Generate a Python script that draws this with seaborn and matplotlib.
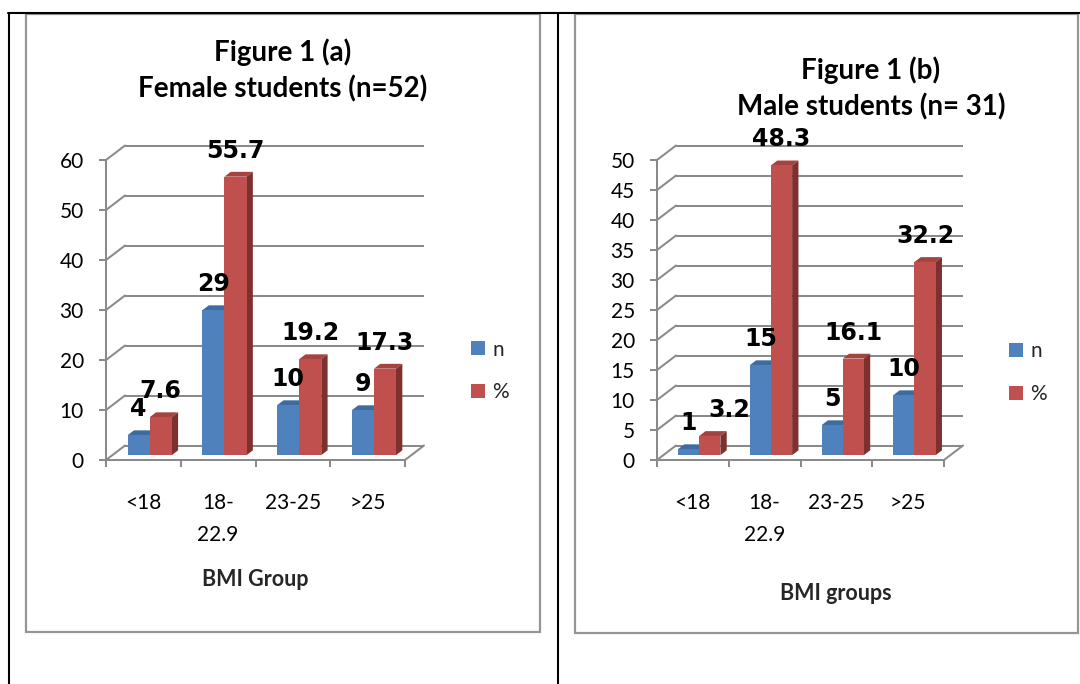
import matplotlib
matplotlib.use("Agg")
import matplotlib.pyplot as plt
import matplotlib.colors as mcolors
import numpy as np
import pandas as pd
import seaborn as sns
from matplotlib.patches import Polygon, Rectangle, ConnectionPatch
from matplotlib.lines import Line2D

# ---- data -------------------------------------------------------------
bmi_groups = ["<18", "18-\n22.9", "23-25", ">25"]
series_names = ["n", "%"]

female_n = [4, 29, 10, 9]
female_pct = [7.6, 55.7, 19.2, 17.3]

male_n = [1, 15, 5, 10]
male_pct = [3.2, 48.3, 16.1, 32.2]

female_title = "Figure 1 (a)\nFemale students (n=52)"
male_title = "Figure 1 (b)\nMale students (n= 31)"
female_xlabel = "BMI Group"
male_xlabel = "BMI groups"
female_yticks = list(range(0, 61, 10))
male_yticks = list(range(0, 51, 5))

# ---- styling ----------------------------------------------------------
W, H, DPI = 1080, 684, 100
BLUE, RED = "#4F81BD", "#C0504D"
FACES = {BLUE.lower(): ("#3E6BA0", "#2F5584"), RED.lower(): ("#A6423F", "#7E302E")}
GRID = "#8A8A8A"
FRAME = "#959595"
DEPTH = (19.0, 14.5)          # pixel offset from front plane to back wall
LW = 1.45

sns.set_theme(style="white")
plt.rcParams["font.family"] = ["Lato", "DejaVu Sans"]


def fx(px):
    return px / W


def fy(py):
    return 1 - py / H


def rect(x0, x1, yb, yt):
    return [fx(x0), fy(yb), (x1 - x0) / W, (yb - yt) / H]


def draw_panel(fig, front, ymax, yticks, n_vals, pct_vals, title, title_xy,
               xlabel, xlabel_xy, legend_xy, nudges=None):
    nudges = nudges or {}
    x0, x1, yb, yt = front
    dx, dy = DEPTH

    ax_back = fig.add_axes(rect(x0 + dx, x1 + dx, yb - dy, yt - dy))
    ax_bar = fig.add_axes(rect(x0 + dx / 3, x1 + dx / 3, yb - dy / 3, yt - dy / 3))
    ax_front = fig.add_axes(rect(x0, x1, yb, yt))

    # back wall gridlines
    ax_back.hlines(yticks, -0.5, 3.5, colors=GRID, lw=LW, clip_on=False)
    ax_back.set_xlim(-0.5, 3.5)
    ax_back.set_ylim(0, ymax)
    ax_back.axis("off")

    # bars
    df = pd.DataFrame({
        "group": bmi_groups * 2,
        "value": list(n_vals) + list(pct_vals),
        "series": [series_names[0]] * 4 + [series_names[1]] * 4,
    })
    sns.barplot(data=df, x="group", y="value", hue="series", order=bmi_groups,
                hue_order=series_names, palette=[BLUE, RED], saturation=1,
                width=0.59, gap=0, linewidth=0, edgecolor="none",
                ax=ax_bar, legend=True)
    ax_bar.set_xlim(-0.5, 3.5)
    ax_bar.set_ylim(0, ymax)
    ax_bar.axis("off")

    ppx = (x1 - x0) / 4.0
    ppy = (yb - yt) / ymax
    ddx = (dx / 3) / ppx
    ddy = (dy / 3) / ppy

    for cont, vals, sname in zip(ax_bar.containers, [n_vals, pct_vals], series_names):
        for patch, v, grp in zip(cont.patches, vals, bmi_groups):
            x, w, h = patch.get_x(), patch.get_width(), patch.get_height()
            key = mcolors.to_hex(patch.get_facecolor()).lower()
            top_c, side_c = FACES.get(key, ("#666666", "#444444"))
            ax_bar.add_patch(Polygon([(x, h), (x + w, h), (x + w + ddx, h + ddy),
                                      (x + ddx, h + ddy)], closed=True,
                                     fc=top_c, ec="none", zorder=0.5, clip_on=False))
            ax_bar.add_patch(Polygon([(x + w, 0), (x + w + ddx, ddy),
                                      (x + w + ddx, h + ddy), (x + w, h)], closed=True,
                                     fc=side_c, ec="none", zorder=0.5, clip_on=False))
            ax_bar.annotate(f"{v:g}", xy=(x + w / 2, h),
                            xytext=(nudges.get((grp, sname), 0), 18.7),
                            textcoords="offset points", ha="center", va="center",
                            fontsize=17, fontweight="bold", family="DejaVu Sans",
                            color="black", annotation_clip=False)

    sns.move_legend(ax_bar, "center left",
                    bbox_to_anchor=(fx(legend_xy[0]), fy(legend_xy[1])),
                    bbox_transform=fig.transFigure, frameon=False, title="",
                    handlelength=0.68, handleheight=0.68, handletextpad=0.35,
                    labelspacing=1.1, borderpad=0, borderaxespad=0, fontsize=15)

    # front axis, floor edge and tick labels
    ax_front.patch.set_visible(False)
    ax_front.set_xlim(-0.5, 3.5)
    ax_front.set_ylim(0, ymax)
    for side in ("top", "right"):
        ax_front.spines[side].set_visible(False)
    for side in ("left", "bottom"):
        ax_front.spines[side].set_color(GRID)
        ax_front.spines[side].set_linewidth(LW)
    ax_front.set_yticks(yticks)
    ax_front.set_yticklabels([str(t) for t in yticks])
    ax_front.set_xticks(range(4))
    ax_front.set_xticklabels(bmi_groups, linespacing=1.75)
    ax_front.set_xticks([-0.5, 0.5, 1.5, 2.5, 3.5], minor=True)
    ax_front.tick_params(axis="y", which="major", length=5, width=LW, color=GRID,
                         direction="out", pad=11, labelsize=15, labelcolor="black",
                         left=True)
    ax_front.tick_params(axis="x", which="major", length=0, pad=24,
                         labelsize=15, labelcolor="black")
    ax_front.tick_params(axis="x", which="minor", length=5, width=LW, color=GRID,
                         direction="out", bottom=True)
    ax_front.set_xlabel(xlabel, fontsize=15.5, fontweight="bold", va="center")
    ax_front.xaxis.set_label_coords(fx(xlabel_xy[0]), fy(xlabel_xy[1]),
                                    transform=fig.transFigure)
    ax_front.set_ylabel("")

    # side wall diagonals joining front axis to the back wall
    for v in yticks:
        fig.add_artist(ConnectionPatch(xyA=(-0.5, v), coordsA=ax_front.transData,
                                       xyB=(-0.5, v), coordsB=ax_back.transData,
                                       color=GRID, lw=LW))
    fig.add_artist(ConnectionPatch(xyA=(3.5, 0), coordsA=ax_front.transData,
                                   xyB=(3.5, 0), coordsB=ax_back.transData,
                                   color=GRID, lw=LW))

    fig.text(fx(title_xy[0]), fy(title_xy[1]), title, ha="center", va="center",
             fontsize=20, fontweight="bold", linespacing=1.4, color="black")


fig = plt.figure(figsize=(W / DPI, H / DPI), dpi=DPI)
fig.patch.set_facecolor("white")

# chart frames
for (l, r, t, b) in [(26, 540, 14, 632), (575, 1078, 14, 633)]:
    fig.add_artist(Rectangle((fx(l), fy(b)), (r - l) / W, (b - t) / H,
                             transform=fig.transFigure, fill=False, ec=FRAME, lw=1.6))

# table rules
for xs, ys in [([8, 1080], [13, 13]), ([9, 9], [13, 684]), ([558, 558], [13, 684])]:
    fig.add_artist(Line2D([fx(v) for v in xs], [fy(v) for v in ys],
                          transform=fig.transFigure, color="black", lw=1.5))

draw_panel(fig, (106, 405, 460, 160), 60, female_yticks, female_n, female_pct,
           female_title, (283, 70.5), female_xlabel, (255, 580), (471, 371))
draw_panel(fig, (657, 944, 460, 160), 50, male_yticks, male_n, male_pct,
           male_title, (871, 88.5), male_xlabel, (836, 594), (1009, 372.5),
           nudges={("<18", "%"): 14})

fig.savefig("out.png", dpi=DPI, facecolor="white")
